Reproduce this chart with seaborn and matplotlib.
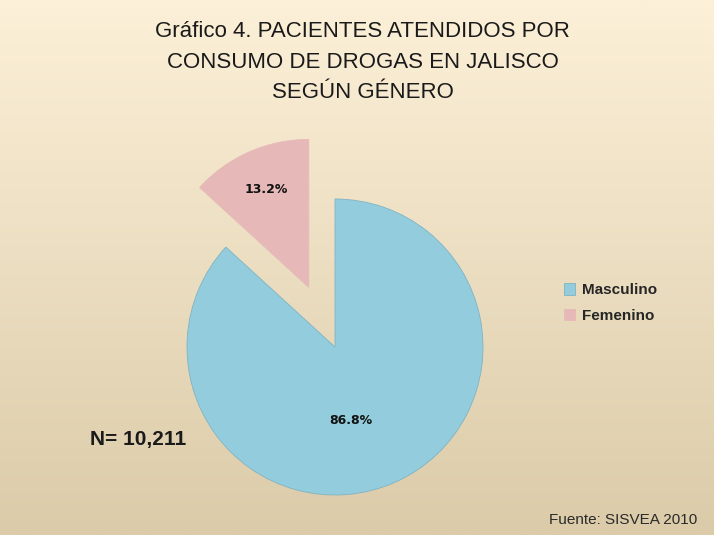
import numpy as np
import matplotlib
matplotlib.use("Agg")
import matplotlib.pyplot as plt
import seaborn as sns

# data
categorias = ["Masculino", "Femenino"]
porcentajes = [86.8, 13.2]
colores = ["#93CDDD", "#E6B9B8"]
titulo = "Gráfico 4. PACIENTES ATENDIDOS POR\nCONSUMO DE DROGAS EN JALISCO\nSEGÚN GÉNERO"
nota_n = "N= 10,211"
fuente = "Fuente: SISVEA 2010"

sns.set_theme(style="white")
plt.rcParams['font.family'] = ['Liberation Sans', 'DejaVu Sans']

W, H = 714, 535
fig = plt.figure(figsize=(W / 100, H / 100), dpi=100)

# gradient background (cream on top, tan at the bottom)
bg = fig.add_axes([0, 0, 1, 1], zorder=0)
top = np.array([252, 240, 216]) / 255
bottom = np.array([219, 203, 169]) / 255
t = np.linspace(0, 1, 256)[:, None]
grad = top * (1 - t) + bottom * t
bg.imshow(grad[:, None, :], aspect="auto", extent=[0, 1, 0, 1])
bg.set_axis_off()

# pie axes, one data unit = pie radius in pixels
r_px = 148
cx, cy = 335, H - 347
ax = fig.add_axes([0, 0, 1, 1], zorder=1)
ax.patch.set_alpha(0)

wedges, textos, pct = ax.pie(
    porcentajes, colors=colores, startangle=90, counterclock=False,
    explode=[0, 0.44], autopct="%1.1f%%", pctdistance=0.72,
    wedgeprops=dict(edgecolor="#7FB3C4", linewidth=0.6),
    textprops=dict(fontsize=9, fontweight="bold", color="#111111",
                   family=['DejaVu Sans']))
wedges[1].set_edgecolor(colores[1])
pct[0].set_position((0.11, -0.5))
ax.set_xlim(-cx / r_px, (W - cx) / r_px)
ax.set_ylim(-cy / r_px, (H - cy) / r_px)
ax.set_aspect("auto")
ax.set_axis_off()

fig.text(0.508, 0.96, titulo, ha="center", va="top", fontsize=16,
         linespacing=1.58, color="#1a1a1a")

leg = ax.legend(wedges, categorias, loc="center left",
                bbox_to_anchor=(550 / W, 1 - 303 / H), frameon=False,
                handlelength=0.75, handleheight=0.75, handletextpad=0.45,
                labelspacing=0.75, prop=dict(size=11, weight="bold"))

fig.text(90 / W, 1 - 440 / H, nota_n, ha="left", va="center", fontsize=15,
         fontweight="bold", color="#1a1a1a")
fig.text(697 / W, 1 - 520 / H, fuente, ha="right", va="center", fontsize=11,
         color="#2a2a2a")

plt.savefig("out.png", dpi=100)
